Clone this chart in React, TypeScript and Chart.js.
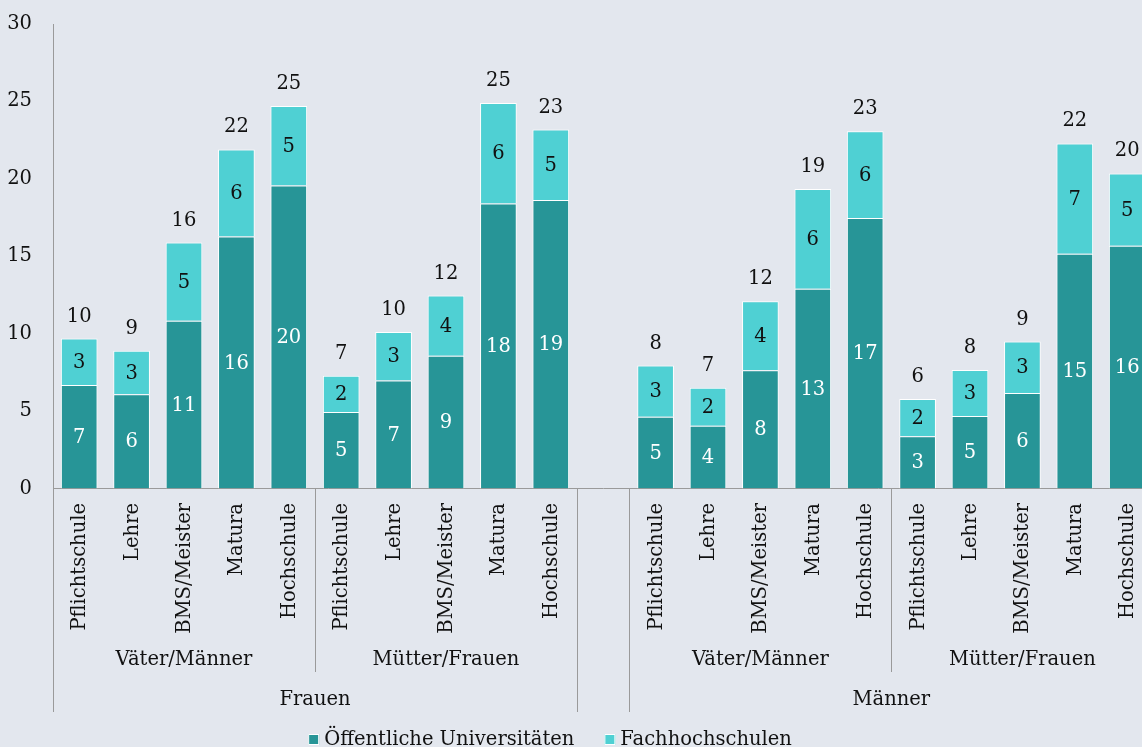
import React, { useEffect, useRef } from 'react';
import { Chart, registerables } from 'chart.js';

Chart.register(...registerables);

const levels = ['Pflichtschule', 'Lehre', 'BMS/Meister', 'Matura', 'Hochschule'];
const subGroups = ['Väter/Männer', 'Mütter/Frauen'];
const mainGroups = ['Frauen', 'Männer'];
const seriesNames = ['Öffentliche Universitäten', 'Fachhochschulen'];

const frauenUni = [6.69, 6.09, 10.83, 16.28, 19.57, 4.94, 6.97, 8.58, 18.41, 18.63];
const frauenFh = [2.99, 2.8, 5.06, 5.62, 5.14, 2.35, 3.13, 3.88, 6.49, 4.55];
const maennerUni = [4.64, 4.06, 7.64, 12.9, 17.47, 3.37, 4.69, 6.17, 15.16, 15.68];
const maennerFh = [3.3, 2.45, 4.46, 6.44, 5.6, 2.41, 2.97, 3.32, 7.13, 4.67];

const yMin = 0;
const yMax = 30;
const yStep = 5;

const categories = [...levels, ...levels, '', ...levels, ...levels];
const uniData: (number | null)[] = [...frauenUni, null, ...maennerUni];
const fhData: (number | null)[] = [...frauenFh, null, ...maennerFh];

const DARK = '#279597';
const LIGHT = '#4fd0d3';
const BG = '#e3e7ee';
const AXIS = '#9a9a9a';
const FONT = '"DejaVu Serif", serif';
const FS = 19.5;

const W = 1160;
const H = 747;

const labelPlugin = {
  id: 'segLabels',
  afterDatasetsDraw(chart: any) {
    const ctx = chart.ctx;
    ctx.save();
    ctx.font = `${FS}px ${FONT}`;
    ctx.textAlign = 'center';
    ctx.textBaseline = 'middle';
    const m0 = chart.getDatasetMeta(0);
    const m1 = chart.getDatasetMeta(1);
    categories.forEach((c, i) => {
      const u = uniData[i];
      const f = fhData[i];
      if (u == null || f == null) return;
      const b0 = m0.data[i];
      const b1 = m1.data[i];
      ctx.fillStyle = '#ffffff';
      ctx.fillText(String(Math.round(u)), b0.x, (b0.y + b0.base) / 2 + 1);
      ctx.fillStyle = '#111111';
      ctx.fillText(String(Math.round(f)), b1.x, (b1.y + b1.base) / 2 + 1);
      ctx.fillText(String(Math.round(u + f)), b1.x, b1.y - 22);
    });
    ctx.restore();
  },
};

const axisPlugin = {
  id: 'hierAxis',
  afterDraw(chart: any) {
    const ctx = chart.ctx;
    const xs = chart.scales.x;
    const area = chart.chartArea;
    const step = xs.getPixelForValue(1) - xs.getPixelForValue(0);
    const base = area.bottom;
    const bound = (i: number) => xs.getPixelForValue(i) - step / 2;
    ctx.save();
    ctx.fillStyle = '#111111';
    ctx.font = `${FS}px ${FONT}`;
    categories.forEach((c, i) => {
      if (!c) return;
      const cx = xs.getPixelForValue(i);
      ctx.save();
      ctx.translate(cx + 1, base + 14.5);
      ctx.rotate(-Math.PI / 2);
      ctx.textAlign = 'right';
      ctx.textBaseline = 'middle';
      ctx.fillText(c, 0, 0);
      ctx.restore();
    });
    // separators
    ctx.strokeStyle = AXIS;
    ctx.lineWidth = 1;
    const longEnd = base + 223.5;
    const shortEnd = base + 183.5;
    const seps: [number, number][] = [
      [0, longEnd], [5, shortEnd], [10, longEnd], [11, longEnd], [16, shortEnd], [21, longEnd],
    ];
    seps.forEach(([i, end]) => {
      const x = Math.round(bound(i)) + 0.5;
      ctx.beginPath();
      ctx.moveTo(x, base);
      ctx.lineTo(x, end);
      ctx.stroke();
    });
    // group labels
    ctx.textAlign = 'center';
    ctx.textBaseline = 'middle';
    const starts = [0, 11];
    starts.forEach((s, gi) => {
      subGroups.forEach((sg, si) => {
        const a = bound(s + si * 5);
        const b = bound(s + si * 5 + 5);
        ctx.fillText(sg, (a + b) / 2, base + 171);
      });
      const a = bound(s);
      const b = bound(s + 10);
      ctx.fillText(mainGroups[gi], (a + b) / 2, base + 211);
    });
    // legend
    const colors = [DARK, LIGHT];
    const boxW = 11;
    const gapBox = 5;
    const gapItem = 30;
    const widths = seriesNames.map((n) => ctx.measureText(n).width);
    const total = widths.reduce((s, w) => s + boxW + gapBox + w, 0) + gapItem;
    let lx = 550 - total / 2;
    const ly = 739.5;
    ctx.textAlign = 'left';
    seriesNames.forEach((n, i) => {
      ctx.fillStyle = colors[i];
      ctx.fillRect(lx, ly - 5.5, boxW, boxW);
      ctx.strokeStyle = '#ffffff';
      ctx.strokeRect(lx + 0.5, ly - 5, boxW - 1, boxW - 1);
      ctx.fillStyle = '#111111';
      ctx.fillText(n, lx + boxW + gapBox, ly);
      lx += boxW + gapBox + widths[i] + gapItem;
    });
    ctx.restore();
  },
};

export default function App() {
  const ref = useRef<HTMLCanvasElement | null>(null);
  useEffect(() => {
    if (!ref.current) return;
    const chart = new Chart(ref.current, {
      type: 'bar',
      data: {
        labels: categories,
        datasets: [
          {
            label: seriesNames[0],
            data: uniData,
            backgroundColor: DARK,
            borderColor: '#ffffff',
            borderWidth: 1,
            categoryPercentage: 1,
            barPercentage: 0.7,
          },
          {
            label: seriesNames[1],
            data: fhData,
            backgroundColor: LIGHT,
            borderColor: '#ffffff',
            borderWidth: 1,
            categoryPercentage: 1,
            barPercentage: 0.7,
          },
        ],
      },
      options: {
        responsive: false,
        animation: false,
        devicePixelRatio: 1,
        layout: { padding: { top: 24, right: W - 53 - 21 * 52.4, left: 0, bottom: 0 } },
        plugins: {
          legend: { display: false },
          tooltip: { enabled: false },
        },
        scales: {
          x: {
            stacked: true,
            grid: { display: false, drawTicks: false },
            border: { display: true, color: AXIS, width: 1 },
            ticks: { display: false },
            afterFit: (s: any) => {
              s.height = H - 488.5;
            },
          },
          y: {
            stacked: true,
            min: yMin,
            max: yMax,
            grid: { display: false, drawTicks: false },
            border: { display: true, color: AXIS, width: 1 },
            ticks: {
              stepSize: yStep,
              padding: 21,
              color: '#111111',
              font: { family: FONT, size: FS },
            },
            afterFit: (s: any) => {
              s.width = 53;
              s.paddingTop = 0;
              s.paddingBottom = 0;
            },
          },
        },
      },
      plugins: [labelPlugin, axisPlugin],
    });
    return () => chart.destroy();
  }, []);
  return (
    <div
      style={{
        position: 'fixed',
        left: 0,
        top: 0,
        width: 1142,
        height: 747,
        overflow: 'hidden',
        background: BG,
      }}
    >
      <canvas ref={ref} width={W} height={H} style={{ display: 'block' }} />
    </div>
  );
}
